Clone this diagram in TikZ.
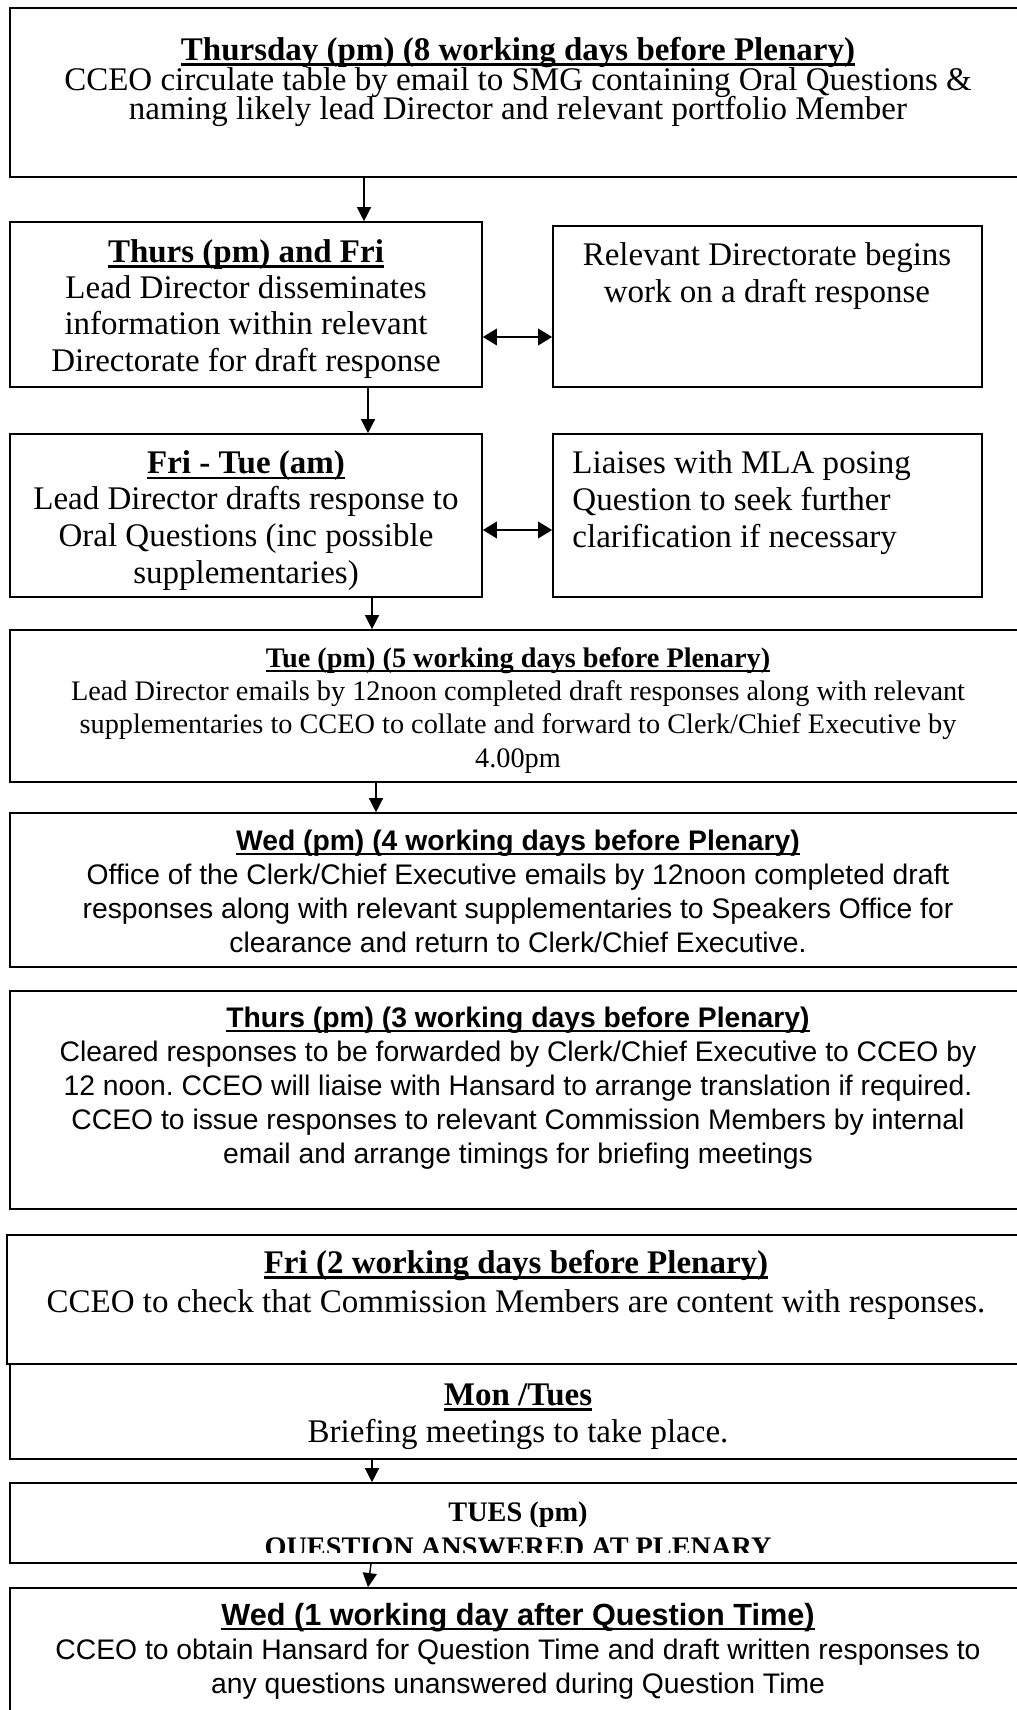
\documentclass[tikz,border=0pt]{standalone}
\usepackage{fontspec}
\setmainfont{Liberation Serif}
\newfontfamily\arialfont{Liberation Sans}
\usetikzlibrary{arrows.meta, positioning, fit}

\newcommand{\ulhead}[1]{\setbox0=\hbox{#1}\rlap{\rule[-0.17em]{\wd0}{0.075em}}\box0}
\lineskiplimit=-50pt
\frenchspacing

\begin{document}
\begin{tikzpicture}[
  x=0.4242pt, y=-0.4242pt,
  every node/.style={inner sep=0pt},
  stepbox/.style={rectangle, draw=black, line width=0.7pt, inner sep=0pt},
  txt/.style={align=center, anchor=base, font=\fontsize{14}{15.4}\selectfont},
  smalltxt/.style={align=center, anchor=base, font=\fontsize{12}{14.1}\selectfont},
  sanstxt/.style={align=center, anchor=base, font=\arialfont\fontsize{12}{14.4}\selectfont},
  line/.style={-{Triangle[length=6pt, width=6pt]}, line width=0.6pt},
  both/.style={{Triangle[length=6pt, width=7pt]}-{Triangle[length=6pt, width=7pt]}, line width=1pt}
]
\useasboundingbox (0,0) rectangle (1017,1710);

\node[stepbox, fit={(10,8) (1026,177)}] (thu8) {};
\node[txt, font=\fontsize{14}{12.7}\selectfont] (thu8txt) at (518,120) {\textbf{\ulhead{Thursday (pm) (8 working days before Plenary)}}\\
  CCEO circulate table by email to SMG containing Oral Questions \&\\
  naming likely lead Director and relevant portfolio Member};

\node[stepbox, fit={(10,222) (482,387)}] (thrfri) {};
\node[txt] (thrfritxt) at (246,371) {\textbf{\ulhead{Thurs (pm) and Fri}}\\
  Lead Director disseminates\\ information within relevant\\ Directorate for draft response};
\node[stepbox, fit={(553,226) (982,387)}] (reldir) {};
\node[txt, font=\fontsize{14}{16}\selectfont] (reldirtxt) at (767,303) {Relevant Directorate begins\\ work on a draft response};

\node[stepbox, fit={(10,434) (482,597)}] (fritue) {};
\begin{scope}
  \clip (10,434) rectangle (482,589);
  \node[txt, font=\fontsize{14}{15.5}\selectfont] (fritutxt) at (246,583) {\textbf{\ulhead{Fri - Tue (am)}}\\
    Lead Director drafts response to\\ Oral Questions (inc possible\\ supplementaries)};
\end{scope}
\node[stepbox, fit={(553,434) (982,597)}] (liaise) {};
\node[txt, align=left, anchor=base west, font=\fontsize{14}{15.5}\selectfont] (liaisetxt) at (572,547) {Liaises with MLA posing\\
  Question to seek further\\ clarification if necessary};

\node[stepbox, fit={(10,630) (1026,782)}] (tue5) {};
\node[smalltxt] (tue5txt) at (518,767) {\textbf{\ulhead{Tue (pm) (5 working days before Plenary)}}\\
  Lead Director emails by 12noon completed draft responses along with relevant\\
  supplementaries to CCEO to collate and forward to Clerk/Chief Executive by\\ 4.00pm};

\node[stepbox, fit={(10,813) (1026,967)}] (wed4) {};
\node[sanstxt] (wed4txt) at (518,952) {\textbf{\ulhead{Wed (pm) (4 working days before Plenary)}}\\
  Office of the Clerk/Chief Executive emails by 12noon completed draft\\
  responses along with relevant supplementaries to Speakers Office for\\
  clearance and return to Clerk/Chief Executive.};

\node[stepbox, fit={(10,991) (1026,1209)}] (thu3) {};
\node[sanstxt] (thu3txt) at (518,1163) {\textbf{\ulhead{Thurs (pm) (3 working days before Plenary)}}\\
  Cleared responses to be forwarded by Clerk/Chief Executive to CCEO by\\
  12 noon. CCEO will liaise with Hansard to arrange translation if required.\\
  CCEO to issue responses to relevant Commission Members by internal\\
  email and arrange timings for briefing meetings};

\node[stepbox, fit={(7,1235) (1025,1364)}] (fri2) {};
\node[txt, font=\fontsize{14}{16.5}\selectfont] (fri2txt) at (516,1312) {\textbf{\ulhead{Fri (2 working days before Plenary)}}\\
  CCEO to check that Commission Members are content with responses.};

\node[stepbox, fit={(10,1364) (1026,1459)}] (montue) {};
\node[txt, font=\fontsize{14}{15.7}\selectfont] (montuetxt) at (518,1442) {\textbf{\ulhead{Mon /Tues}}\\
  Briefing meetings to take place.};

\node[stepbox, fit={(10,1483) (1026,1563)}] (tuespm) {};
\begin{scope}
  \clip (10,1483) rectangle (1026,1552);
  \node[smalltxt, font=\bfseries\fontsize{12}{14.8}\selectfont] (tuespmtxt) at (518,1556) {TUES (pm)\\
    QUESTION ANSWERED AT PLENARY};
\end{scope}

\node[stepbox, fit={(10,1588) (1026,1760)}] (wed1) {};
\node[sanstxt] (wed1txt) at (518,1693) {{\fontsize{13}{14.4}\selectfont\textbf{\ulhead{Wed (1 working day after Question Time)}}}\\
  CCEO to obtain Hansard for Question Time and draft written responses to\\
  any questions unanswered during Question Time};

\draw[line] (thu8.south -| 364,0) -- (thrfri.north -| 364,0);
\draw[line] (thrfri.south -| 368,0) -- (fritue.north -| 368,0);
\draw[line] (fritue.south -| 372,0) -- (tue5.north -| 372,0);
\draw[line] (tue5.south -| 376,0) -- (wed4.north -| 376,0);
\draw[line] (montue.south -| 372,0) -- (tuespm.north -| 372,0);
\draw[line] (tuespm.south -| 371,0) -- (wed1.north -| 368,0);
\draw[both] (thrfri.east |- 0,337) -- (reldir.west |- 0,337);
\draw[both] (fritue.east |- 0,530) -- (liaise.west |- 0,530);
\end{tikzpicture}
\end{document}
